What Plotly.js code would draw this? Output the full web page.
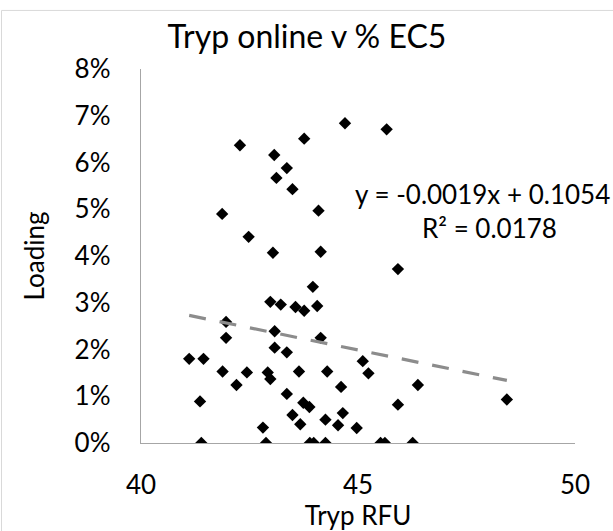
<!DOCTYPE html>
<html>
<head>
<meta charset="utf-8">
<script src="https://cdn.plot.ly/plotly-3.0.1.min.js"></script>
<style>html,body{margin:0;padding:0;background:#fff;}#chart{width:613px;height:531px;}</style>
</head>
<body>
<div id="chart"></div>
<script>
// Tryp RFU values
const trypRFU = [
  42.28, 43.07, 43.36, 43.12, 43.49, 43.76, 41.87, 42.48, 43.04, 44.70,
  45.66, 44.09, 44.14, 42.98, 43.22, 43.56, 41.96, 41.96, 43.08, 43.08,
  43.36, 41.11, 41.44, 41.88, 42.44, 42.92, 42.98, 42.20, 43.64, 43.36,
  41.36, 43.49, 43.67, 42.81, 41.39, 42.88, 45.92, 43.96, 43.76, 44.06,
  44.14, 45.11, 45.24, 44.29, 46.38, 44.61, 43.74, 43.88, 45.92, 48.43,
  44.65, 44.25, 44.54, 44.97, 43.89, 43.98, 44.25, 45.52, 45.62, 46.26
];
// Loading (fraction)
const loading = [
  0.0637, 0.0616, 0.0588, 0.0567, 0.0543, 0.0651, 0.0490, 0.0441, 0.0407, 0.0684,
  0.0671, 0.0497, 0.0409, 0.0302, 0.0296, 0.0291, 0.0259, 0.0225, 0.0239, 0.0204,
  0.0194, 0.0180, 0.0180, 0.0153, 0.0151, 0.0151, 0.0137, 0.0124, 0.0153, 0.0105,
  0.0089, 0.0060, 0.0040, 0.0033, 0.0000, 0.0000, 0.0372, 0.0334, 0.0283, 0.0293,
  0.0225, 0.0175, 0.0149, 0.0153, 0.0124, 0.0120, 0.0086, 0.0077, 0.0082, 0.0093,
  0.0064, 0.0050, 0.0038, 0.0032, 0.0000, 0.0000, 0.0000, 0.0000, 0.0000, 0.0000
];
// Linear trendline as displayed
const trendSlope = -0.0019;
const trendIntercept = 0.1054;
const trendR2 = 0.0178;
const xTicks = [40, 45, 50];
const yTicks = [0, 0.01, 0.02, 0.03, 0.04, 0.05, 0.06, 0.07, 0.08];

const xMin = Math.min(...trypRFU), xMax = Math.max(...trypRFU);
const trendX = [xMin, xMax];
const trendY = trendX.map(v => trendSlope * v + trendIntercept);

const FONT = 'Lato, "Open Sans", sans-serif';

const traces = [
  {
    x: trypRFU, y: loading, type: 'scatter', mode: 'markers',
    marker: {symbol: 'diamond', size: 9.5, color: '#000000'},
    hoverinfo: 'x+y', showlegend: false
  },
  {
    x: trendX, y: trendY, type: 'scatter', mode: 'lines',
    line: {color: '#8c8c8c', width: 3.2, dash: '17px,14px'},
    hoverinfo: 'skip', showlegend: false
  }
];

const layout = {
  width: 613, height: 531,
  margin: {l: 141, r: 38, t: 69, b: 88.3},
  paper_bgcolor: '#ffffff', plot_bgcolor: '#ffffff',
  font: {family: FONT, color: '#000000', size: 26},
  title: {
    text: 'Tryp online v % EC5',
    font: {family: FONT, size: 32, color: '#000000'},
    xref: 'container', yref: 'container',
    x: 307 / 613, xanchor: 'center',
    y: 1 - 37 / 531, yanchor: 'middle'
  },
  xaxis: {
    range: [40, 50], tickvals: xTicks, ticktext: xTicks.map(String),
    showgrid: false, zeroline: false, showline: true,
    linecolor: '#a6a6a6', linewidth: 1.3, ticks: '',
    ticklabelstandoff: 18,
    tickfont: {family: FONT, size: 26, color: '#000000'},
    title: {text: 'Tryp RFU', font: {family: FONT, size: 26, color: '#000000'}, standoff: 4},
    fixedrange: true
  },
  yaxis: {
    range: [0, 0.08], tickvals: yTicks, tickformat: '.0%',
    showgrid: false, zeroline: false, showline: true,
    linecolor: '#a6a6a6', linewidth: 1.3, ticks: '',
    ticklabelstandoff: 24,
    tickfont: {family: FONT, size: 26, color: '#000000'},
    title: {text: 'Loading', font: {family: FONT, size: 26, color: '#000000'}, standoff: 22},
    fixedrange: true
  },
  annotations: [
    {
      xref: 'x', yref: 'y', x: 47.88, y: 0.0533, xanchor: 'center', yanchor: 'middle',
      text: 'y = ' + trendSlope.toFixed(4) + 'x + ' + trendIntercept.toFixed(4),
      showarrow: false, font: {family: FONT, size: 26, color: '#000000'}
    },
    {
      xref: 'x', yref: 'y', x: 48.02, y: 0.0460, xanchor: 'center', yanchor: 'middle',
      text: 'R² = ' + trendR2.toFixed(4),
      showarrow: false, font: {family: FONT, size: 26, color: '#000000'}
    }
  ],
  shapes: [
    {
      type: 'rect', xref: 'paper', yref: 'paper',
      x0: (1.5 - 141) / 434, x1: (640 - 141) / 434,
      y0: (442.7 - 560) / 373.7, y1: (442.7 - 10.5) / 373.7,
      line: {color: '#d9d9d9', width: 1}, fillcolor: 'rgba(0,0,0,0)', layer: 'below'
    }
  ]
};

Plotly.newPlot('chart', traces, layout, {displayModeBar: false, staticPlot: true});
</script>
</body>
</html>
